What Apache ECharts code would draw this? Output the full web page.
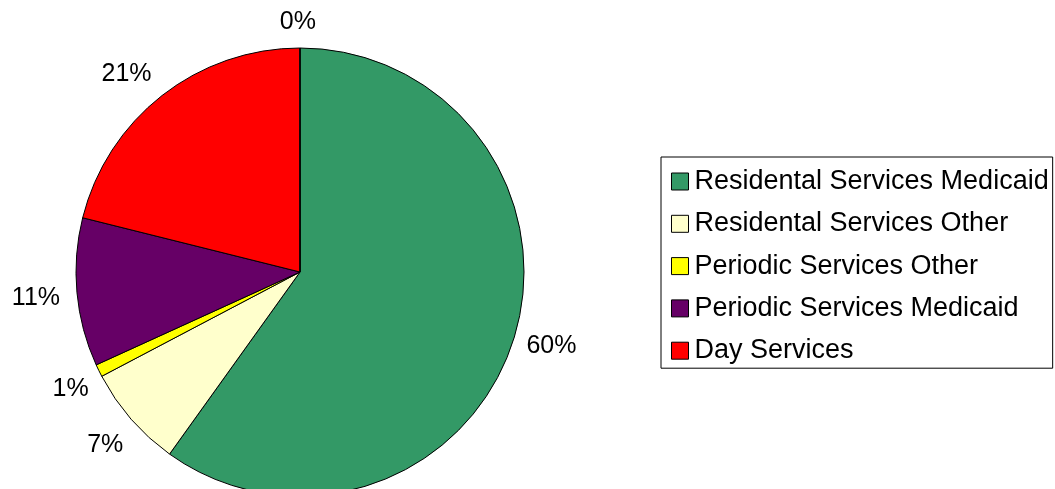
<!DOCTYPE html>
<html>
<head>
<meta charset="utf-8">
<script src="https://cdn.jsdelivr.net/npm/echarts@6/dist/echarts.min.js"></script>
<style>
html,body{margin:0;padding:0;background:#fff;}
#chart{width:1055px;height:489px;}
</style>
</head>
<body>
<div id="chart"></div>
<script>
const categories = ['Residental Services Medicaid', 'Residental Services Other', 'Periodic Services Other', 'Periodic Services Medicaid', 'Day Services', ''];
const values = [59.9, 7.4, 0.9, 10.7, 21.1, 0.01];
const colors = ['#339966', '#FFFFCC', '#FFFF00', '#660066', '#FF0000', '#FFFFFF'];
const legendNames = categories.slice(0, 5);

// label nudges (style only), per slice index
const labelNudge = [
  {dx: -8, dy: 0},
  {dx: 10, dy: 15},
  {dx: 10, dy: 11},
  {dx: 5, dy: 4},
  {dx: 5, dy: -8},
  {dx: 3, dy: -9, align: 'center'}
];

const chart = echarts.init(document.getElementById('chart'), null, {renderer: 'canvas'});
chart.setOption({
  backgroundColor: '#ffffff',
  animation: false,
  legend: {
    data: legendNames,
    orient: 'vertical',
    left: 661,
    top: 157,
    padding: [11, 4, 4, 10],
    borderColor: '#000',
    borderWidth: 1,
    itemWidth: 17,
    itemHeight: 17,
    itemGap: 15.3,
    icon: 'rect',
    itemStyle: {borderColor: '#000', borderWidth: 1},
    textStyle: {fontFamily: 'Liberation Sans, Arial', fontSize: 27, lineHeight: 26, color: '#000', padding: [0, 0, 0, 1]},
    selectedMode: false
  },
  series: [{
    type: 'pie',
    center: [300, 272],
    radius: 224,
    startAngle: 90,
    clockwise: true,
    silent: true,
    avoidLabelOverlap: false,
    itemStyle: {borderColor: '#000', borderWidth: 1},
    label: {
      show: true,
      position: 'outside',
      fontFamily: 'Liberation Sans, Arial',
      fontSize: 25,
      color: '#000',
      formatter: p => Math.round(p.percent) + '%'
    },
    labelLine: {show: false, length: 17, length2: 0},
    labelLayout: p => labelNudge[p.dataIndex] || {},
    data: categories.map((n, i) => ({name: n, value: values[i], itemStyle: {color: colors[i]}}))
  }]
});
</script>
</body>
</html>
